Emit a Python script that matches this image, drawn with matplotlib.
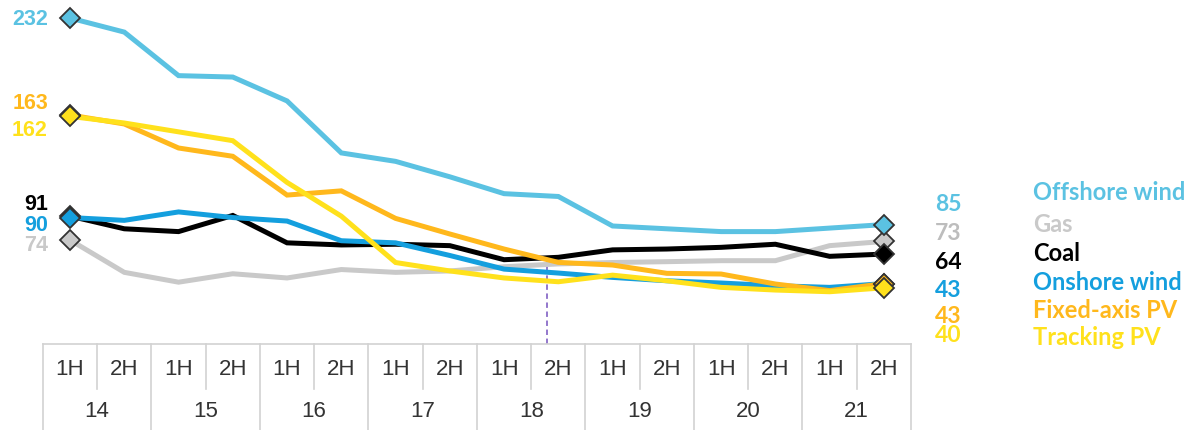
import matplotlib
matplotlib.use("Agg")
import matplotlib.pyplot as plt

years = ["14", "15", "16", "17", "18", "19", "20", "21"]
halves = ["1H", "2H"]

offshore_wind = [232, 222, 191, 190, 173, 136, 130, 119, 107, 105, 84, 82, 80, 80, 82.5, 85]
gas = [74, 51, 44, 50, 47, 53, 51, 52, 55, 57, 58, 58.6, 59.3, 59.3, 70, 73]
coal = [91, 82, 80, 91.5, 72, 70.5, 71, 70, 60, 61.7, 67, 67.6, 68.8, 71, 62.4, 64]
onshore_wind = [90, 88, 94, 90, 87.5, 73.5, 72, 63, 53.3, 50.5, 47.4, 45, 43.4, 41.5, 40.3, 43]
fixed_pv = [163, 156.6, 139.5, 133.6, 106, 109, 89.4, 78.3, 67.6, 58.1, 56.2, 50.3, 49.8, 42.7, 38, 43]
tracking_pv = [162, 157.3, 151, 144.7, 115, 91, 58, 52, 47, 44.3, 49, 45, 40.3, 38.4, 37.2, 40]

left_labels = ["232", "163", "162", "91", "90", "74"]
right_labels = ["85", "73", "64", "43", "43", "40"]
legend_names = ["Offshore wind", "Gas", "Coal", "Onshore wind", "Fixed-axis PV", "Tracking PV"]

C_OFF = "#5BC2E2"
C_GAS = "#C9C9C9"
C_COAL = "#000000"
C_ON = "#149FDE"
C_FIX = "#FFB81C"
C_TRK = "#FFE11C"

W, H = 1190, 431
fig = plt.figure(figsize=(W / 100, H / 100), dpi=100)
px_left, px_right = 42.9, 911.0
px_zero, px_top = 345.0, 0.0
ppu = 1.405
ytop = (px_zero - px_top) / ppu
ax = fig.add_axes([px_left / W, (H - px_zero) / H, (px_right - px_left) / W, (px_zero - px_top) / H])
ax.set_xlim(-0.5, 15.5)
ax.set_ylim(0, ytop)
ax.axis("off")

n = len(offshore_wind)
xs = list(range(n))

data = [
    (gas, C_GAS), (coal, C_COAL), (onshore_wind, C_ON),
    (fixed_pv, C_FIX), (tracking_pv, C_TRK), (offshore_wind, C_OFF),
]
for i, (vals, col) in enumerate(data):
    ax.plot(xs, vals, color=col, lw=3.6, solid_joinstyle="miter", zorder=2 + i, clip_on=False)
for i, (vals, col) in enumerate(data):
    ax.plot([xs[0], xs[-1]], [vals[0], vals[-1]], ls="none", marker="D", ms=10.5,
            mfc=col, mec="#333333", mew=1.3, zorder=10 + i, clip_on=False)

ax.plot([8.8, 8.8], [0, 59], color="#8A6CC8", lw=1.3, ls=(0, (3, 2)), zorder=1)

ff_left = ["Liberation Sans", "DejaVu Sans"]
lx = -0.5 + (48 - px_left) / 54.27
left_pos = [(232, C_OFF), (172, C_FIX), (152.5, C_TRK), (100, C_COAL), (85, C_ON), (70.5, C_GAS)]
for txt, (v, col) in zip(left_labels, left_pos):
    ax.text(lx, v, txt, ha="right", va="center", color=col, fontsize=15.5,
            fontweight="bold", family=ff_left, clip_on=False)

ff_cal = ["Lato", "DejaVu Sans"]
rx = -0.5 + (935 - px_left) / 54.27
right_pos = [(100, C_OFF), (79.5, "#BDBDBD"), (59, C_COAL), (39, C_ON), (20.5, C_FIX), (6.5, C_TRK)]
for txt, (v, col) in zip(right_labels, right_pos):
    ax.text(rx, v, txt, ha="left", va="center", color=col, fontsize=16.5,
            fontweight="bold", family=ff_cal, clip_on=False)

gx = -0.5 + (1033 - px_left) / 54.27
leg_cols = [C_OFF, "#C9C9C9", C_COAL, C_ON, C_FIX, C_TRK]
leg_pos = [193, 225, 254, 283, 311, 338]
for name, col, py in zip(legend_names, leg_cols, leg_pos):
    v = (px_zero - py) / ppu
    ax.text(gx, v, name, ha="left", va="center", color=col, fontsize=17,
            fontweight="bold", family=ff_cal, clip_on=False)

grid_col = "#D2D2D2"
vbot = -(H - px_zero) / ppu
vmid = -(390 - px_zero) / ppu
ax.plot([-0.5, 15.5], [0, 0], color=grid_col, lw=1.2, clip_on=False, zorder=1)
for g in range(len(years) + 1):
    xb = -0.5 + 2 * g
    ax.plot([xb, xb], [0, vbot], color=grid_col, lw=1.2, clip_on=False)
for g in range(len(years)):
    xm = 0.5 + 2 * g
    ax.plot([xm, xm], [0, vmid], color=grid_col, lw=1.2, clip_on=False)
y_half = -(370 - px_zero) / ppu
y_year = -(412 - px_zero) / ppu
for g, yr in enumerate(years):
    for h, hl in enumerate(halves):
        ax.text(2 * g + h, y_half, hl, ha="center", va="center", color="#333333",
                fontsize=16, family=ff_left, clip_on=False)
    ax.text(2 * g + 0.5, y_year, yr, ha="center", va="center", color="#333333",
            fontsize=16, family=ff_left, clip_on=False)

fig.savefig("out.png", dpi=100)
